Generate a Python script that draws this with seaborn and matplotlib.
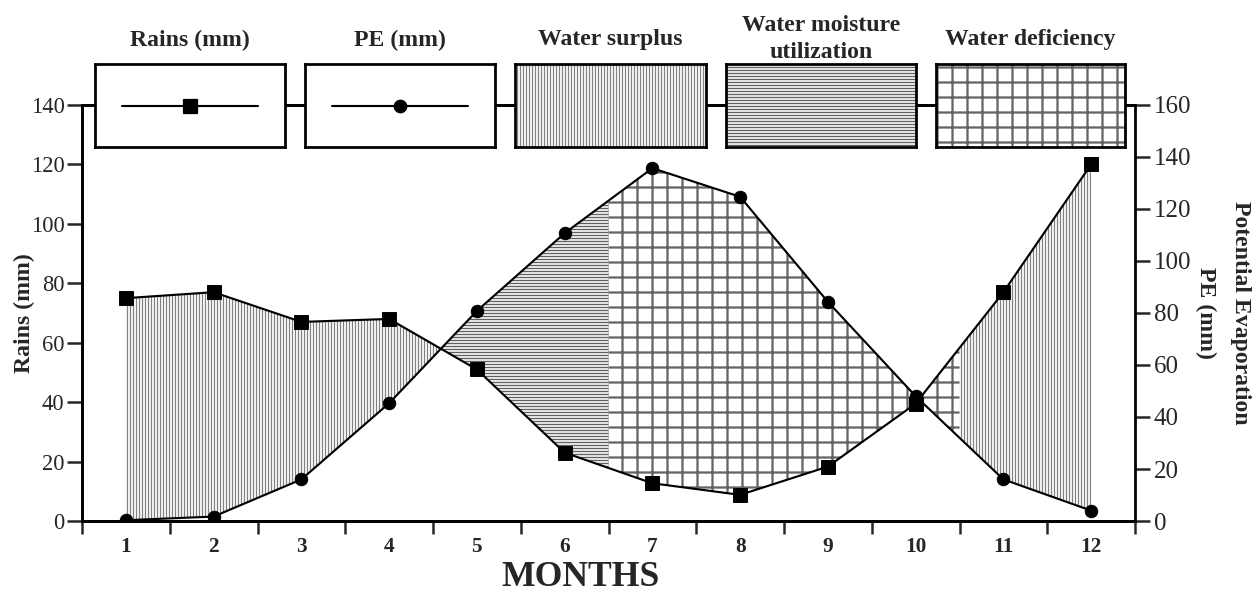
import numpy as np
import matplotlib.pyplot as plt
from matplotlib.patches import Rectangle
import seaborn as sns

# Monthly water balance values
months = [1, 2, 3, 4, 5, 6, 7, 8, 9, 10, 11, 12]
rains = [75, 77, 67, 68, 51, 23, 12.7, 8.8, 18.3, 39.5, 77, 120]      # left axis (mm)
pe = [0.3, 1.7, 16, 45.3, 80.8, 110.7, 135.7, 124.7, 84.3, 48, 16, 4]  # right axis (mm)
utilization_end = 6.5
deficiency_end = 10.5
legend_titles = ["Rains (mm)", "PE (mm)", "Water surplus",
                 "Water moisture\nutilization", "Water deficiency"]

W, H, DPI = 1260, 595, 90

sns.set_style("ticks")
plt.rcParams["font.family"] = ["Liberation Serif", "DejaVu Serif"]

fig = plt.figure(figsize=(W / DPI, H / DPI), dpi=DPI)


def px(x0, y0, x1, y1):
    # pixel box (top-left origin) -> figure fraction rect
    return [x0 / W, 1 - y1 / H, (x1 - x0) / W, (y1 - y0) / H]


def hatched(kw, lw):
    # hatch linewidth is read when the artist is created
    plt.rcParams["hatch.linewidth"] = lw
    return kw


ax = fig.add_axes(px(82, 105, 1135, 521))
ax2 = ax.twinx()
ax.set_xlim(0.5, 12.5)
ax.set_ylim(0, 140)
ax2.set_ylim(0, 160)

# PE expressed in left-axis units so the areas between curves can be filled
scale = ax.get_ylim()[1] / ax2.get_ylim()[1]
pe_left = np.array(pe) * scale

surplus_kw = dict(hatch="|||||", facecolor="none", edgecolor="#808080", linewidth=0)
util_kw = dict(hatch="-----", facecolor="none", edgecolor="#606060", linewidth=0)
defic_kw = dict(hatch="+", facecolor="none", edgecolor="#646464", linewidth=0)
hatch_lw = {"surplus": 1.0, "util": 1.1, "defic": 1.8}

xa = np.linspace(months[0], utilization_end, 1101)
ra, pa = np.interp(xa, months, rains), np.interp(xa, months, pe_left)
ax.fill_between(xa, ra, pa, where=ra >= pa, interpolate=True,
                **hatched(surplus_kw, hatch_lw["surplus"]))
ax.fill_between(xa, ra, pa, where=ra <= pa, interpolate=True,
                **hatched(util_kw, hatch_lw["util"]))

xb = np.linspace(utilization_end, deficiency_end, 801)
ax.fill_between(xb, np.interp(xb, months, rains), np.interp(xb, months, pe_left),
                **hatched(defic_kw, hatch_lw["defic"]))

xc = np.linspace(deficiency_end, months[-1], 301)
ax.fill_between(xc, np.interp(xc, months, rains), np.interp(xc, months, pe_left),
                **hatched(surplus_kw, hatch_lw["surplus"]))

sns.lineplot(x=months, y=rains, ax=ax, color="black", linewidth=1.7, marker="s",
             markersize=11, markeredgecolor="black", zorder=5)
sns.lineplot(x=months, y=pe, ax=ax2, color="black", linewidth=1.7, marker="o",
             markersize=10, markeredgecolor="black", zorder=5)

# axes styling
for a in (ax, ax2):
    for s in a.spines.values():
        s.set_linewidth(2.2)
        s.set_color("black")
ax.spines["right"].set_visible(False)

ax.set_yticks(range(0, 141, 20))
ax2.set_yticks(range(0, 161, 20))
ax.tick_params(axis="y", labelsize=18, length=12, width=2, pad=2)
ax2.tick_params(axis="y", labelsize=20, length=12, width=2, pad=3)

ax.set_xticks(months)
ax.set_xticks(np.arange(0.5, 12.6, 1), minor=True)
ax.tick_params(axis="x", which="major", length=0, labelsize=17, pad=13)
ax.tick_params(axis="x", which="minor", length=10, width=2)
for lbl in ax.get_xticklabels():
    lbl.set_fontweight("bold")

ax.set_xlabel("MONTHS", fontsize=28.5, fontweight="bold", va="center")
ax.xaxis.set_label_coords((580 - 82) / 1053, -(578 - 521) / 416)
ax.set_ylabel("Rains (mm)", fontsize=19, fontweight="bold")
ax.yaxis.set_label_coords((35 - 82) / 1053, 0.5)
ax2.set_ylabel("Potential Evaporation\nPE (mm)", fontsize=19, fontweight="bold",
               rotation=270, linespacing=1.8, va="center")
ax2.yaxis.set_label_coords((1223 - 82) / 1053, 0.5)

# legend boxes sitting on the top spine
boxes = [(95, 285), (305, 495), (515, 706), (726, 916), (936, 1125)]
title_y = [46, 46, 45, 58, 45]
box_hatch = [None, None, (surplus_kw, 1.0), (util_kw, 1.1), (defic_kw, 1.8)]
for i, (x0, x1) in enumerate(boxes):
    bax = fig.add_axes(px(x0, 64, x1, 147))
    bax.set_xlim(0, 1)
    bax.set_ylim(0, 1)
    bax.set_xticks([])
    bax.set_yticks([])
    bax.set_facecolor("white")
    for s in bax.spines.values():
        s.set_linewidth(2.2)
        s.set_color("black")
    if i == 0:
        bax.plot([0.14, 0.86], [0.5, 0.5], color="black", lw=1.7)
        bax.plot([0.5], [0.5], marker="s", color="black", markersize=11)
    elif i == 1:
        bax.plot([0.14, 0.86], [0.5, 0.5], color="black", lw=1.7)
        bax.plot([0.5], [0.5], marker="o", color="black", markersize=10)
    else:
        kw, lw = box_hatch[i]
        bax.add_patch(Rectangle((0, 0), 1, 1, transform=bax.transAxes, **hatched(kw, lw)))
    fig.text(((x0 + x1) / 2) / W, 1 - title_y[i] / H, legend_titles[i],
             ha="center", va="baseline", fontsize=19, fontweight="bold",
             linespacing=1.35)

fig.savefig("out.png", dpi=DPI)
